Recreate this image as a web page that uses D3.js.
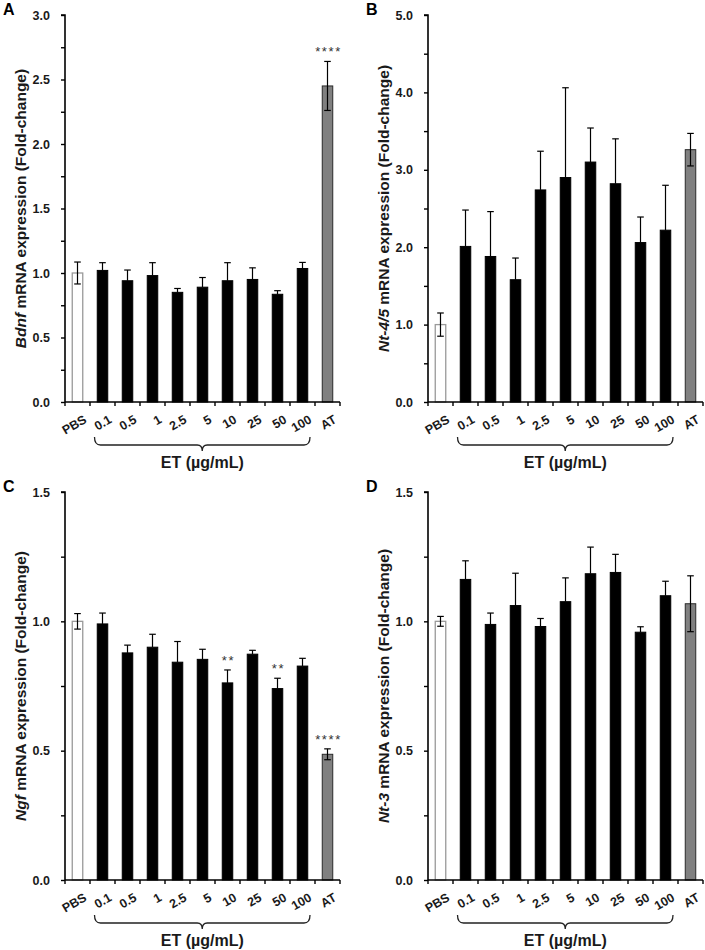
<!DOCTYPE html>
<html><head><meta charset="utf-8">
<script src="https://cdn.jsdelivr.net/npm/d3@7/dist/d3.min.js"></script>
<style>
html,body{margin:0;padding:0;background:#fff;}
text{font-family:"Liberation Sans",Arial,"DejaVu Sans",sans-serif;}
</style></head>
<body><svg id="chart" width="705" height="950"></svg>
<script>
// ---------- data ----------
const categories = ["PBS","0.1","0.5","1","2.5","5","10","25","50","100","AT"];
const etLabel = "ET (µg/mL)";

const bdnfMean = [1.00,1.02,0.94,0.98,0.85,0.89,0.94,0.95,0.835,1.035,2.45];
const bdnfErr  = [0.085,0.06,0.083,0.10,0.03,0.075,0.14,0.09,0.028,0.047,0.19];
const bdnfSig  = ["","","","","","","","","","","****"];

const nt45Mean = [1.00,2.01,1.88,1.58,2.74,2.90,3.10,2.82,2.06,2.22,3.26];
const nt45Err  = [0.15,0.47,0.58,0.28,0.50,1.16,0.44,0.58,0.33,0.58,0.21];
const nt45Sig  = ["","","","","","","","","","",""];

const ngfMean = [1.00,0.99,0.878,0.90,0.842,0.853,0.762,0.873,0.740,0.827,0.486];
const ngfErr  = [0.03,0.042,0.03,0.05,0.08,0.039,0.05,0.015,0.04,0.03,0.021];
const ngfSig  = ["","","","","","","**","","**","","****"];

const nt3Mean = [1.00,1.162,0.988,1.061,0.980,1.076,1.184,1.189,0.958,1.099,1.068];
const nt3Err  = [0.019,0.072,0.044,0.125,0.031,0.092,0.103,0.07,0.021,0.056,0.108];
const nt3Sig  = ["","","","","","","","","","",""];

const panelLetters = ["A","B","C","D"];
const geneNames = ["Bdnf","Nt-4/5","Ngf","Nt-3"];
const yMaxes = [3.0,5.0,1.5,1.5];
const yMajorSteps = [0.5,1.0,0.5,0.5];

// ---------- layout ----------
const svg = d3.select("#chart");
const layout = [
  {x0:65,  top:15,  bottom:402},
  {x0:428, top:15,  bottom:402},
  {x0:65,  top:492, bottom:880},
  {x0:428, top:492, bottom:880}
];
const plotW = 275;
const means = [bdnfMean, nt45Mean, ngfMean, nt3Mean];
const errs = [bdnfErr, nt45Err, ngfErr, nt3Err];
const sigs = [bdnfSig, nt45Sig, ngfSig, nt3Sig];

layout.forEach((L, p) => {
  const g = svg.append("g");
  const x = d3.scaleBand().domain(categories).range([L.x0, L.x0 + plotW]).padding(0);
  const y = d3.scaleLinear().domain([0, yMaxes[p]]).range([L.bottom, L.top]);
  const bw = x.bandwidth() * 0.42;
  const rows = categories.map((c, i) => ({c, i, v: means[p][i], e: errs[p][i], s: sigs[p][i]}));
  const last = categories.length - 1;

  // bars
  g.selectAll("rect.bar").data(rows).join("rect")
    .attr("x", d => x(d.c) + (x.bandwidth() - bw) / 2)
    .attr("y", d => y(d.v))
    .attr("width", bw)
    .attr("height", d => y(0) - y(d.v))
    .attr("fill", d => d.i === 0 ? "#ffffff" : d.i === last ? "#808080" : "#000000")
    .attr("stroke", d => d.i === 0 ? "#9a9a9a" : d.i === last ? "#2a2a2a" : "#000000")
    .attr("stroke-width", d => d.i === 0 ? 1.3 : 1);

  // error bars
  const cap = 3.3;
  rows.forEach(d => {
    const cx = x(d.c) + x.bandwidth() / 2;
    const two = d.i === 0 || d.i === last;
    const lo = two ? d.v - d.e : d.v;
    const hi = d.v + d.e;
    g.append("line").attr("x1", cx).attr("x2", cx).attr("y1", y(lo)).attr("y2", y(hi))
      .attr("stroke", "#000").attr("stroke-width", 1.2);
    g.append("line").attr("x1", cx - cap).attr("x2", cx + cap).attr("y1", y(hi)).attr("y2", y(hi))
      .attr("stroke", "#000").attr("stroke-width", 1.2);
    if (two) {
      g.append("line").attr("x1", cx - cap).attr("x2", cx + cap).attr("y1", y(lo)).attr("y2", y(lo))
        .attr("stroke", "#000").attr("stroke-width", 1.2);
    }
    if (d.s) {
      g.append("text").attr("x", cx + 1).attr("y", y(hi) - 5)
        .attr("text-anchor", "middle").attr("font-size", 13)
        .attr("letter-spacing", 1.6).attr("fill", "#333").text(d.s);
    }
  });

  // y axis
  const step = yMajorSteps[p];
  const nMinor = Math.round(yMaxes[p] / (step / 2));
  const tickVals = d3.range(nMinor + 1).map(k => +(k * step / 2).toFixed(4));
  const yAxis = d3.axisLeft(y).tickValues(tickVals).tickSize(4).tickPadding(11)
    .tickFormat(v => (Math.abs(v / step - Math.round(v / step)) < 1e-6) ? d3.format(".1f")(v) : "");
  const ya = g.append("g").attr("transform", `translate(${L.x0},0)`).call(yAxis);
  ya.select(".domain").attr("stroke", "#000").attr("stroke-width", 1.6).attr("d", `M-4,${L.top}H0V${L.bottom}`);
  ya.selectAll(".tick line").attr("stroke", "#000").attr("stroke-width", 1.4);
  ya.selectAll(".tick text").attr("font-size", 12.5).attr("font-weight", "bold")
    .attr("fill", "#1a1a1a").attr("font-family", "'Liberation Sans',Arial,sans-serif");

  // x axis
  g.append("line").attr("x1", L.x0).attr("x2", L.x0 + plotW).attr("y1", L.bottom).attr("y2", L.bottom)
    .attr("stroke", "#000").attr("stroke-width", 1.6);
  const bounds = categories.map(c => x(c)).concat([L.x0 + plotW]);
  g.selectAll("line.xt").data(bounds).join("line")
    .attr("x1", d => d).attr("x2", d => d).attr("y1", L.bottom).attr("y2", L.bottom + 4)
    .attr("stroke", "#000").attr("stroke-width", 1.4);
  g.selectAll("text.xl").data(categories).join("text")
    .attr("transform", c => `translate(${x(c) + x.bandwidth() / 2 + 10},${L.bottom + 20}) rotate(-30)`)
    .attr("text-anchor", "end").attr("font-size", 12.5).attr("font-weight", "bold")
    .attr("fill", "#1a1a1a").text(c => c);

  // brace
  const bx0 = x(categories[1]) + 4.5;
  const bx1 = x(categories[last - 1]) + x.bandwidth() - 5;
  const bm = (bx0 + bx1) / 2;
  const bt = L.bottom + 35, bh = L.bottom + 43, btip = L.bottom + 49;
  const bp = `M${bx0},${bt} Q${bx0},${bh} ${bx0 + 6},${bh} L${bm - 5},${bh} Q${bm},${bh} ${bm},${btip} Q${bm},${bh} ${bm + 5},${bh} L${bx1 - 6},${bh} Q${bx1},${bh} ${bx1},${bt}`;
  g.append("path").attr("d", bp).attr("fill", "none").attr("stroke", "#222").attr("stroke-width", 1.3);
  g.append("text").attr("x", bm).attr("y", L.bottom + 66).attr("text-anchor", "middle")
    .attr("font-size", 16).attr("font-weight", "bold").attr("fill", "#1a1a1a").text(etLabel);

  // y title
  const yt = g.append("text")
    .attr("transform", `translate(${L.x0 - 39.5},${(L.top + L.bottom) / 2}) rotate(-90)`)
    .attr("text-anchor", "middle").attr("font-size", 15.5).attr("font-weight", "bold").attr("fill", "#1a1a1a");
  yt.append("tspan").attr("font-style", "italic").text(geneNames[p]);
  yt.append("tspan").text(" mRNA expression (Fold-change)");

  // panel letter
  g.append("text").attr("x", L.x0 - 62).attr("y", L.top - 0.5)
    .attr("font-size", 16).attr("font-weight", "bold").attr("fill", "#000").text(panelLetters[p]);
});
</script></body></html>
